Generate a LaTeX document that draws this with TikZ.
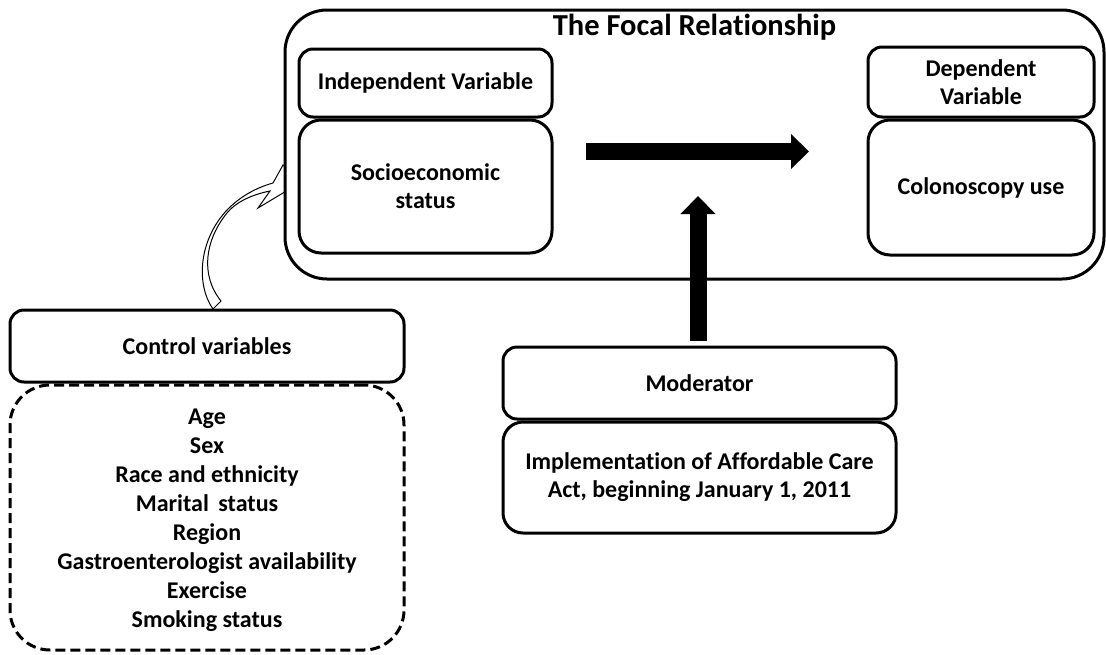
\documentclass[tikz,border=0pt]{standalone}
\usepackage{fontspec}
\setmainfont{Carlito}[Ligatures=NoCommon]
\usetikzlibrary{arrows.meta}
\newcommand\lblfont{\fontsize{24}{28}\selectfont\bfseries}
\newcommand\listfont{\fontsize{24}{29}\selectfont\bfseries}
\newcommand\ttlfont{\fontsize{30.5}{34}\selectfont\bfseries}
\tikzset{
  box/.style={draw, line width=3pt, rounded corners=14pt, fill=white, align=center, inner sep=0pt, font=\lblfont},
  bigarrow/.style={line width=17pt, -{Triangle[width=34pt,length=18pt]}},
  hollowarrow/.style={draw, line width=1pt, fill=white, line join=miter},
}
\begin{document}
\begin{tikzpicture}[x=1pt,y=-1pt]
\useasboundingbox (0,0) rectangle (1106,654);
% curved hollow arrow (drawn first, tip hidden under focal box)
\coordinate (ca1) at (213,309);
\coordinate (ca2) at (221,301);
\draw[hollowarrow] (ca1) .. controls (196,285) and (198,240) .. (228,209)
  .. controls (240,197) and (255,188) .. (273,183) -- (283,165) -- (300,180)
  -- (283,193) -- (258,208) -- (270,191)
  .. controls (250,195) and (235,203) .. (227,213)
  .. controls (205,240) and (200,275) .. (ca2) -- cycle;
% focal box
\node[box, rounded corners=42pt, minimum width=819pt, minimum height=269pt] (focal) at (694.5,144.5) {};
\node[font=\ttlfont, inner sep=0pt] (title) at (694.5,27) {The Focal Relationship};
\node[box, minimum width=253pt, minimum height=68pt] (iv) at (425.5,83) {Independent Variable};
\node[box, rounded corners=22pt, minimum width=253pt, minimum height=133pt] (ses) at (425.5,186.5) {Socioeconomic\\status};
\node[box, minimum width=226pt, minimum height=70pt] (dv) at (981,82) {Dependent\\Variable};
\node[box, rounded corners=22pt, minimum width=226pt, minimum height=135pt] (cu) at (981,187.5) {Colonoscopy use};
% moderator
\node[box, minimum width=393pt, minimum height=72pt] (mod) at (699.5,383) {Moderator};
\node[box, rounded corners=20pt, minimum width=393pt, minimum height=111pt] (impl) at (699.5,477.5) {Implementation of Affordable Care\\Act, beginning January 1, 2011};
% controls
\node[box, minimum width=394pt, minimum height=72pt] (ctrl) at (207,346) {Control variables};
\node[box, dashed, dash pattern=on 10pt off 5pt, rounded corners=40pt, minimum width=394pt, minimum height=265pt] (list) at (207,517.5) {};
\node[font=\listfont, align=center, inner sep=0pt] (listtext) at (207,520.5) {Age\\Sex\\Race and ethnicity\\Marital\, status\\Region\\Gastroenterologist availability\\Exercise\\Smoking status};
% arrows
\coordinate (hs) at (586,151.5);
\coordinate (he) at (809,151.5);
\draw[bigarrow] (hs) -- (he);
\coordinate (vs) at ([xshift=-1.5pt,yshift=5pt]mod.north);
\coordinate (ve) at (698,196);
\draw[bigarrow] (vs) -- (ve);
\end{tikzpicture}
\end{document}
